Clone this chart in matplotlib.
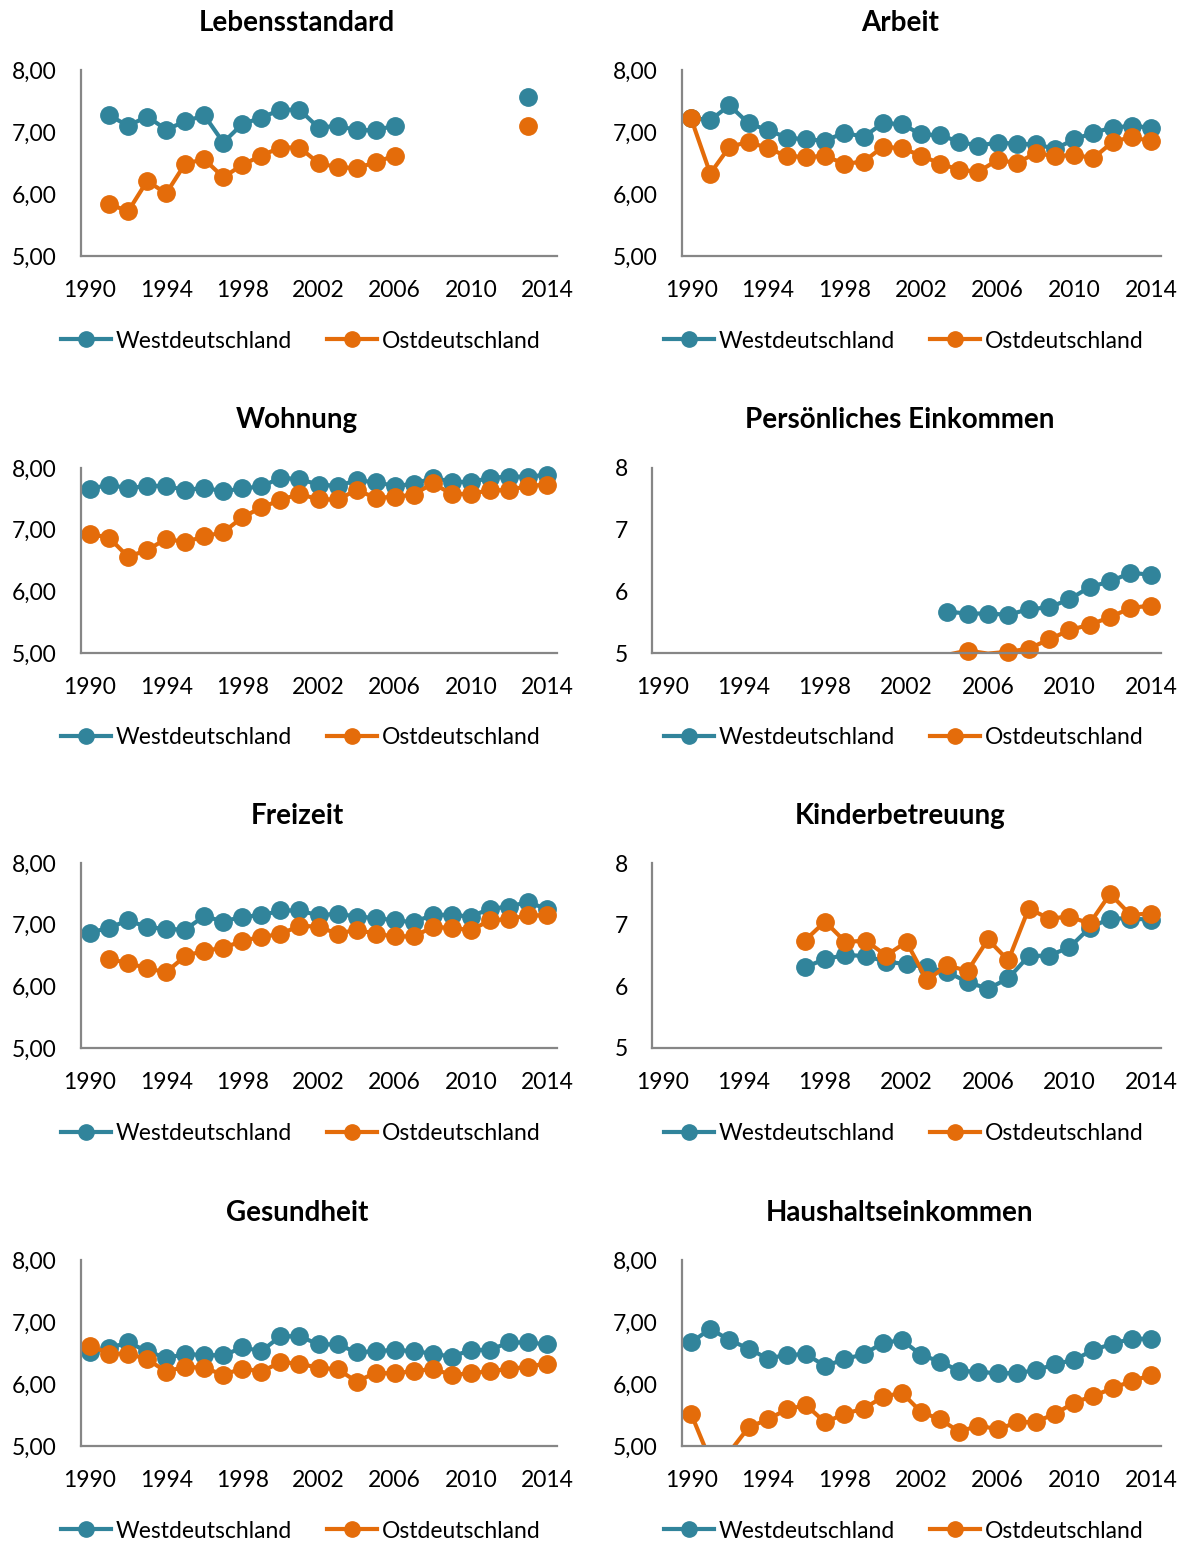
import matplotlib
matplotlib.use("Agg")
import matplotlib.pyplot as plt
import numpy as np

plt.rcParams['font.family'] = ['Lato', 'DejaVu Sans']

years = np.arange(1990, 2015)
west_label = 'Westdeutschland'
east_label = 'Ostdeutschland'
N = np.nan

# Lebensstandard
leben_w = [N, 7.27, 7.10, 7.25, 7.04, 7.17, 7.27, 6.83, 7.13, 7.23, 7.36, 7.36, 7.07, 7.10, 7.03, 7.03, 7.10,
           N, N, N, N, N, N, 7.56, N]
leben_o = [N, 5.84, 5.72, 6.21, 6.01, 6.49, 6.56, 6.27, 6.47, 6.62, 6.75, 6.75, 6.50, 6.43, 6.42, 6.51, 6.62,
           N, N, N, N, N, N, 7.10, N]
# Arbeit
arbeit_w = [7.23, 7.19, 7.43, 7.14, 7.03, 6.91, 6.88, 6.86, 6.99, 6.92, 7.14, 7.13, 6.96, 6.95, 6.84, 6.78,
            6.83, 6.81, 6.80, 6.73, 6.88, 6.99, 7.07, 7.10, 7.07]
arbeit_o = [7.22, 6.33, 6.76, 6.84, 6.74, 6.61, 6.60, 6.61, 6.49, 6.52, 6.76, 6.74, 6.62, 6.49, 6.39, 6.36,
            6.55, 6.50, 6.66, 6.61, 6.63, 6.58, 6.84, 6.92, 6.85]
# Wohnung
wohn_w = [7.66, 7.73, 7.67, 7.71, 7.71, 7.64, 7.68, 7.62, 7.67, 7.70, 7.84, 7.82, 7.73, 7.71, 7.80, 7.77,
          7.71, 7.74, 7.84, 7.78, 7.77, 7.84, 7.86, 7.86, 7.89]
wohn_o = [6.93, 6.87, 6.56, 6.67, 6.85, 6.80, 6.89, 6.96, 7.20, 7.36, 7.48, 7.58, 7.49, 7.49, 7.64, 7.52,
          7.53, 7.57, 7.75, 7.58, 7.58, 7.64, 7.64, 7.71, 7.73]
# Persoenliches Einkommen
pers_w = [N] * 14 + [5.67, 5.64, 5.64, 5.62, 5.71, 5.74, 5.87, 6.07, 6.16, 6.30, 6.27]
pers_o = [N] * 14 + [4.97, 5.04, 4.99, 5.02, 5.07, 5.22, 5.37, 5.46, 5.58, 5.73, 5.77]
# Freizeit
frei_w = [6.87, 6.95, 7.07, 6.96, 6.93, 6.92, 7.14, 7.05, 7.13, 7.15, 7.23, 7.23, 7.15, 7.18, 7.13, 7.11,
          7.07, 7.04, 7.16, 7.16, 7.13, 7.26, 7.29, 7.37, 7.25]
frei_o = [N, 6.44, 6.38, 6.29, 6.23, 6.49, 6.58, 6.62, 6.74, 6.80, 6.85, 6.98, 6.97, 6.85, 6.92, 6.85,
          6.81, 6.81, 6.96, 6.95, 6.91, 7.07, 7.09, 7.15, 7.15]
# Kinderbetreuung
kind_w = [N] * 7 + [6.31, 6.44, 6.51, 6.49, 6.40, 6.36, 6.31, 6.23, 6.07, 5.96, 6.13, 6.49, 6.50, 6.63,
                    6.95, 7.10, 7.10, 7.08]
kind_o = [N] * 7 + [6.74, 7.05, 6.72, 6.74, 6.50, 6.72, 6.10, 6.34, 6.25, 6.76, 6.42, 7.26, 7.10, 7.13,
                    7.02, 7.50, 7.16, 7.18]
# Gesundheit
gesund_w = [6.51, 6.58, 6.67, 6.53, 6.42, 6.48, 6.47, 6.46, 6.59, 6.53, 6.77, 6.77, 6.64, 6.64, 6.51, 6.53,
            6.55, 6.53, 6.49, 6.44, 6.55, 6.55, 6.67, 6.67, 6.64]
gesund_o = [6.62, 6.49, 6.49, 6.40, 6.20, 6.28, 6.26, 6.15, 6.25, 6.20, 6.35, 6.33, 6.26, 6.24, 6.04, 6.18,
            6.17, 6.21, 6.24, 6.15, 6.17, 6.21, 6.24, 6.28, 6.33]
# Haushaltseinkommen
haus_w = [6.67, 6.89, 6.71, 6.57, 6.41, 6.47, 6.48, 6.29, 6.40, 6.48, 6.66, 6.71, 6.47, 6.36, 6.21, 6.20,
          6.17, 6.18, 6.22, 6.32, 6.39, 6.55, 6.65, 6.73, 6.73]
haus_o = [5.52, 4.77, 4.90, 5.30, 5.43, 5.59, 5.66, 5.38, 5.52, 5.60, 5.79, 5.86, 5.55, 5.43, 5.23, 5.33,
          5.27, 5.38, 5.39, 5.52, 5.70, 5.81, 5.93, 6.05, 6.14]

titles = ['Lebensstandard', 'Arbeit', 'Wohnung', 'Persönliches Einkommen',
          'Freizeit', 'Kinderbetreuung', 'Gesundheit', 'Haushaltseinkommen']
west = [leben_w, arbeit_w, wohn_w, pers_w, frei_w, kind_w, gesund_w, haus_w]
east = [leben_o, arbeit_o, wohn_o, pers_o, frei_o, kind_o, gesund_o, haus_o]
integer_ticks = [False, False, False, True, False, True, False, False]

c_west = '#31849b'
c_east = '#e46c0a'
W, H = 1190, 1545

fig = plt.figure(figsize=(W / 100, H / 100), dpi=100)

row_top = [70, 468, 863, 1260]
row_bot = [256, 653, 1048, 1446]
title_y = [23, 420, 816, 1213]
legend_y = [341, 738, 1134, 1531]

for i in range(8):
    r, c = divmod(i, 2)
    if c == 0:
        x0, x1 = 80.5, 556.5
        cx = 297
    elif integer_ticks[i]:
        x0, x1 = 652, 1161
        cx = 900
    else:
        x0, x1 = 681.5, 1160.5
        cx = 900
    ax = fig.add_axes([x0 / W, 1 - row_bot[r] / H, (x1 - x0) / W, (row_bot[r] - row_top[r]) / H])
    w = np.array(west[i], dtype=float)
    o = np.array(east[i], dtype=float)
    for vals, col, lab in [(w, c_west, west_label), (o, c_east, east_label)]:
        ax.plot(years, vals, color=col, lw=3, solid_capstyle='round')
        mv = np.where(vals >= 5, vals, np.nan)
        ax.plot(years, mv, 'o', color=col, ms=12.5, mec=col, clip_on=False)
        ax.plot([], [], '-o', color=col, lw=3, ms=11, label=lab)
    ax.set_xlim(1989.5, 2014.5)
    ax.set_ylim(5, 8)
    ax.set_yticks([5, 6, 7, 8])
    if integer_ticks[i]:
        ax.set_yticklabels(['5', '6', '7', '8'])
    else:
        ax.set_yticklabels(['5,00', '6,00', '7,00', '8,00'])
    ax.set_xticks(np.arange(1990, 2015, 4))
    ax.tick_params(length=0, labelsize=16.5, colors='black', pad=17)
    ax.tick_params(axis='y', pad=17)
    for s in ['top', 'right']:
        ax.spines[s].set_visible(False)
    for s in ['left', 'bottom']:
        ax.spines[s].set_color('#868686')
        ax.spines[s].set_linewidth(1.6)
    fig.text(cx / W, 1 - title_y[r] / H, titles[i], ha='center', va='center',
             fontsize=20, fontweight='bold')
    handles, labels = ax.get_legend_handles_labels()
    fig.legend(handles, labels, loc='center', bbox_to_anchor=(cx / W + 0.003, 1 - legend_y[r] / H),
               ncol=2, frameon=False, fontsize=16.5, handlelength=2.2, handletextpad=0.2,
               columnspacing=1.5, borderaxespad=0)

fig.savefig('out.png', dpi=100)
